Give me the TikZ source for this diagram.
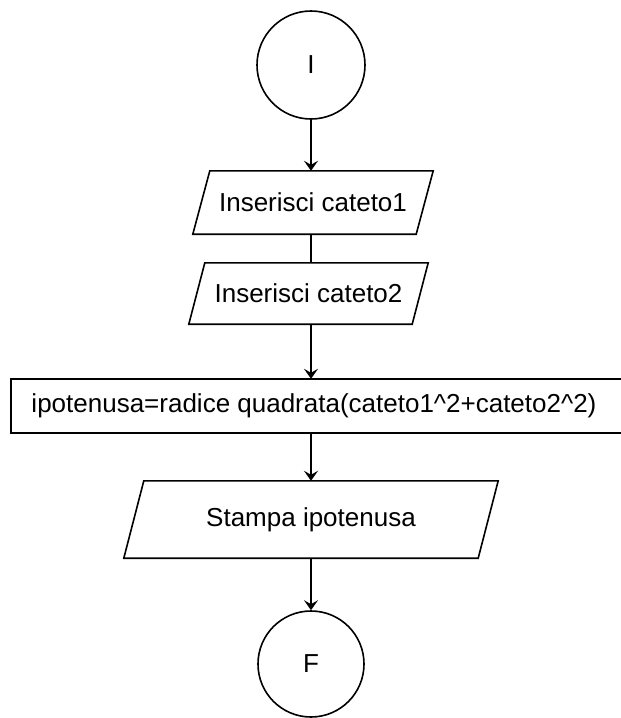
\documentclass[tikz,border=0pt]{standalone}
\usepackage{fontspec}
\setmainfont{Liberation Sans}
\usetikzlibrary{arrows.meta}
\newcommand{\ioframe}[2]{\draw[shapeline] ([xshift=#2]#1.north west) -- ([xshift=#2]#1.north east) -- ([xshift=-#2]#1.south east) -- ([xshift=-#2]#1.south west) -- cycle;}
\tikzset{
  shapeline/.style={line width=1.6pt, black},
  txt/.style={inner sep=0pt, font=\fontsize{26}{30}\selectfont},
  term/.style={circle, draw, line width=1.6pt, inner sep=0pt, font=\fontsize{26}{30}\selectfont},
  conn/.style={line width=1.6pt},
  arr/.style={line width=1.6pt, -{Stealth[length=10pt,width=14pt,inset=4pt]}}
}
\begin{document}
\begin{tikzpicture}[x=1pt,y=-1pt]
\useasboundingbox (0,0) rectangle (621,718);
\clip (0,0) rectangle (621,718);
\fill[white] (0,0) rectangle (621,718);
% terminals
\node[term, minimum size=108pt] (I) at (311,65) {I};
\node[term, minimum size=106pt] (F) at (311,664) {F};
% input/output boxes
\node[txt, minimum width=223pt, minimum height=63pt] (p1) at (313,202.5) {Inserisci cateto1};
\ioframe{p1}{8.5pt}
\node[txt, minimum width=223pt, minimum height=61pt] (p2) at (308.5,293.5) {Inserisci cateto2};
\ioframe{p2}{8pt}
\node[txt, minimum height=54pt] (r) at (314,406) {ipotenusa=radice quadrata(cateto1\textasciicircum 2+cateto2\textasciicircum 2)};
\draw[shapeline] (11,379) rectangle (660,433);
\node[txt, minimum width=354pt, minimum height=77pt] (p3) at (311,519.5) {Stampa ipotenusa};
\ioframe{p3}{10pt}
% connectors
\draw[arr] (I.south) -- (I.south |- p1.north);
\draw[conn] (I.south |- p1.south) -- (I.south |- p2.north);
\draw[arr] (I.south |- p2.south) -- (I.south |- r.north);
\draw[arr] (I.south |- r.south) -- (I.south |- p3.north);
\draw[arr] (I.south |- p3.south) -- (F.north);
\end{tikzpicture}
\end{document}
